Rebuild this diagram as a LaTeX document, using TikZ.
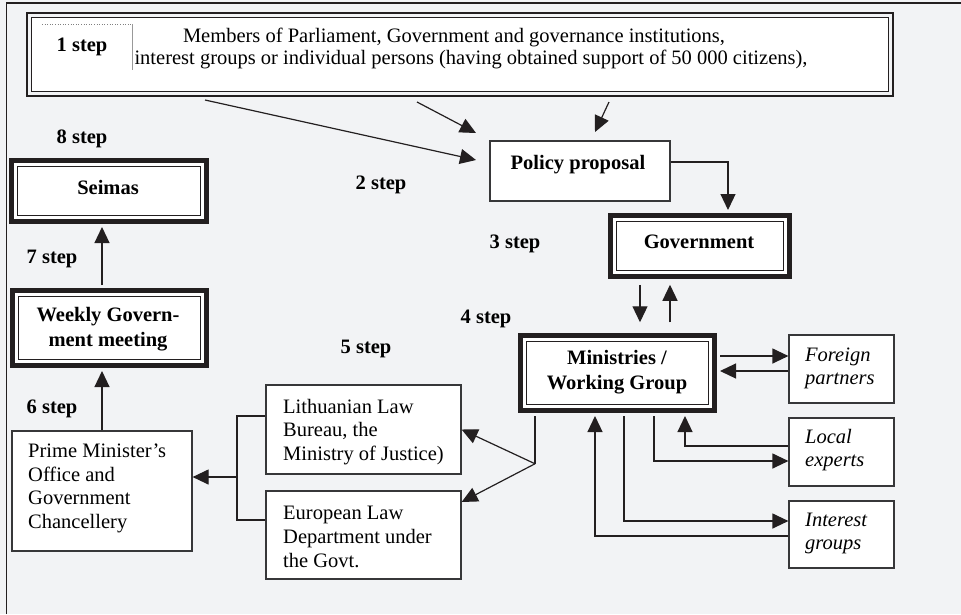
\documentclass[tikz,border=0pt]{standalone}
\usepackage{fontspec}
\setmainfont{Liberation Serif}
\usetikzlibrary{arrows.meta,calc}
\definecolor{bg}{RGB}{242,243,245}
\definecolor{ink}{RGB}{35,31,32}
\definecolor{edge}{RGB}{55,55,57}
\tikzset{
  plainbox/.style={draw=edge, line width=1.2pt, fill=white, inner sep=0pt},
  heavybox/.style={draw=ink, line width=5.5pt, fill=white, inner sep=0pt,
    path picture={\draw[ink, line width=1.1pt]
      ([shift={(6pt,-6pt)}]path picture bounding box.north west) rectangle
      ([shift={(-6pt,6pt)}]path picture bounding box.south east);}},
  topframe/.style={draw=ink, line width=1.5pt, fill=bg, inner sep=0pt,
    path picture={\draw[ink, line width=1.4pt, fill=white]
      ([shift={(4.5pt,-4.5pt)}]path picture bounding box.north west) rectangle
      ([shift={(-4.5pt,4.5pt)}]path picture bounding box.south east);}},
  conn/.style={ink, line width=1.2pt},
  arr/.style={conn, -{Triangle[length=16pt,width=15pt]}},
  steplbl/.style={font=\bfseries\fontsize{20.5}{24}\selectfont, inner sep=0pt},
  txt/.style={font=\fontsize{20.5}{23.6}\selectfont, inner sep=0pt, align=left},
  btxt/.style={font=\bfseries\fontsize{20.5}{25}\selectfont, inner sep=0pt, align=center},
  itxt/.style={font=\itshape\fontsize{20.5}{23}\selectfont, inner sep=0pt, align=left},
}
\begin{document}
\begin{tikzpicture}[x=1pt,y=-1pt]
\useasboundingbox (0,0) rectangle (961,614);
\fill[bg] (0,0) rectangle (961,614);
\draw[ink, line width=1.2pt] (6.5,614) -- (6.5,3) -- (961,3);

% step 1 box
\node[topframe, minimum width=866pt, minimum height=83pt] (top) at (460,54.5) {};
\draw[gray, line width=0.6pt, dotted] (42,24) -- (132,24);
\draw[gray!80, line width=0.6pt] (132,24) -- (132,70);
\node[steplbl] (s1) at (82,47) {1 step};
\node[txt] (t1) at (454,37) {Members of Parliament, Government and governance institutions,};
\node[txt] (t2) at (471,59) {interest groups or individual persons (having obtained support of 50 000 citizens),};

% boxes
\node[plainbox, minimum width=180pt, minimum height=60pt] (pp) at (580,171) {};
\node[btxt] (ppt) at (578,165) {Policy proposal};

\node[heavybox, minimum width=179pt, minimum height=61pt] (gov) at (700,246) {};
\node[btxt] (govt) at (699,242) {Government};

\node[heavybox, minimum width=194pt, minimum height=75pt] (min) at (617.5,373) {};
\node[btxt] (mint) at (617,372.5) {Ministries /\\Working Group};

\node[heavybox, minimum width=195pt, minimum height=61pt] (sei) at (109,191) {};
\node[btxt] (seit) at (108,187) {Seimas};

\node[heavybox, minimum width=194pt, minimum height=75pt] (wk) at (109.5,328) {};
\node[btxt] (wkt) at (108,329.5) {Weekly Govern-\\ment meeting};

\node[plainbox, minimum width=180pt, minimum height=120pt] (pm) at (102,491) {};
\node[txt, anchor=west] (pmt) at (28,488.5) {Prime Minister’s\\Office and\\Government\\Chancellery};

\node[plainbox, minimum width=195pt, minimum height=89pt] (lt) at (363.5,429.5) {};
\node[txt, anchor=west] (ltt) at (283,432) {Lithuanian Law\\Bureau, the\\Ministry of Justice)};

\node[plainbox, minimum width=195pt, minimum height=88pt] (eu) at (363.5,535) {};
\node[txt, anchor=west] (eut) at (283,537) {European Law\\Department under\\the Govt.};

\node[plainbox, minimum width=105pt, minimum height=68pt] (fp) at (841.5,369) {};
\node[itxt, anchor=west] (fpt) at (805,368.5) {Foreign\\partners};

\node[plainbox, minimum width=105pt, minimum height=68pt] (le) at (841.5,452) {};
\node[itxt, anchor=west] (let) at (805,450) {Local\\experts};

\node[plainbox, minimum width=105pt, minimum height=67pt] (ig) at (841.5,534.5) {};
\node[itxt, anchor=west] (igt) at (805,533.5) {Interest\\groups};

% step labels
\node[steplbl] (s8) at (82,139) {8 step};
\node[steplbl] (s2) at (381,185) {2 step};
\node[steplbl] (s3) at (515,244) {3 step};
\node[steplbl] (s4) at (486,319) {4 step};
\node[steplbl] (s5) at (366,349) {5 step};
\node[steplbl] (s7) at (52,259) {7 step};
\node[steplbl] (s6) at (52,409) {6 step};

% arrows from step 1
\coordinate (a1) at (205,100);
\coordinate (a1e) at (476,160);
\coordinate (a2) at (417,102);
\coordinate (a2e) at (476,133);
\coordinate (a3) at (609,102);
\coordinate (a3e) at (595,132);
\draw[arr] (a1) -- (a1e);
\draw[arr] (a2) -- (a2e);
\draw[arr] (a3) -- (a3e);

% policy -> government
\draw[arr] ([yshift=9pt]pp.east) -| ([xshift=28pt,yshift=2.75pt]gov.north);

% government <-> ministries
\draw[arr, shorten <=5.5pt, shorten >=10.5pt] ([xshift=-60pt]gov.south) -- ([xshift=22.5pt]min.north);
\draw[arr, shorten <=10.5pt, shorten >=5.5pt] ([xshift=52.5pt]min.north) -- ([xshift=-30pt]gov.south);

% ministries <-> foreign partners
\draw[arr] ([yshift=17pt,xshift=2.75pt]min.east) -- ([yshift=17pt]min.east -| fp.west);
\draw[arr] ([yshift=2pt]min.east -| fp.west) -- ([yshift=2pt,xshift=2.75pt]min.east);

% ministries <-> local experts
\draw[arr] ([xshift=36.5pt,yshift=-2.75pt]min.south) |- ([yshift=-9pt]le.west);
\draw[arr] ([yshift=6pt]le.west) -| ([xshift=67.5pt,yshift=-2.75pt]min.south);

% ministries <-> interest groups
\draw[arr] ([xshift=6.5pt,yshift=-2.75pt]min.south) |- ([yshift=13.5pt]ig.west);
\draw[arr] ([yshift=-1.5pt]ig.west) -| ([xshift=-22.5pt,yshift=-2.75pt]min.south);

% ministries -> legal bodies
\coordinate (j) at ([xshift=-82.5pt,yshift=-50.5pt]min.south);
\draw[conn] ([xshift=-82.5pt,yshift=-2.75pt]min.south) -- (j);
\draw[arr] (j) -- (lt.east);
\draw[arr] (j) -- ([yshift=33pt]eu.east);

% legal bodies -> prime minister's office
\coordinate (b) at (237,477);
\draw[conn] ([yshift=13.5pt]lt.west) -| (b) |- ([yshift=15pt]eu.west);
\draw[arr] (b) -- (b -| pm.east);

% prime minister -> weekly -> seimas
\draw[arr, shorten >=2.75pt] (pm.north) -- (pm.north |- wk.south);
\draw[arr, shorten <=2.75pt, shorten >=2.75pt] (pm.north |- wk.north) -- (pm.north |- sei.south);
\end{tikzpicture}
\end{document}
